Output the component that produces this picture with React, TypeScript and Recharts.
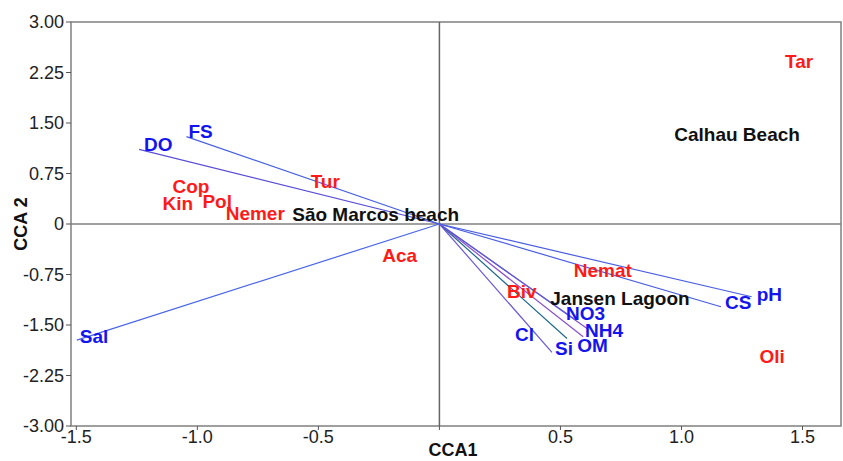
import { ReferenceArea, ReferenceLine, Scatter, ScatterChart, XAxis, YAxis } from "recharts";

// axis ticks
const xTicks = [-1.5, -1, -0.5, 0, 0.5, 1, 1.5];
const yTicks = [3, 2.25, 1.5, 0.75, 0, -0.75, -1.5, -2.25, -3];
const xDomain = [-1.522, 1.659];
const yDomain = [-3, 3];

// environmental variable arrows (CCA1, CCA2 of the arrow tip)
const envVectors = [
  { name: "DO", x: -1.241, y: 1.108 },
  { name: "FS", x: -1.045, y: 1.297 },
  { name: "Sal", x: -1.498, y: -1.724 },
  { name: "pH", x: 1.29, y: -1.08 },
  { name: "CS", x: 1.163, y: -1.229 },
  { name: "Cl", x: 0.465, y: -1.908 },
  { name: "Si", x: 0.527, y: -1.7 },
  { name: "OM", x: 0.594, y: -1.675 },
  { name: "NH4", x: 0.61, y: -1.551 },
  { name: "NO3", x: 0.56, y: -1.42 }
];

// species scores
const species = [
  { name: "Tar", x: 1.428, y: 2.411 },
  { name: "Tur", x: -0.532, y: 0.629 },
  { name: "Cop", x: -1.103, y: 0.554 },
  { name: "Kin", x: -1.144, y: 0.306 },
  { name: "Pol", x: -0.979, y: 0.331 },
  { name: "Nemer", x: -0.883, y: 0.158 },
  { name: "Aca", x: -0.236, y: -0.475 },
  { name: "Nemat", x: 0.555, y: -0.698 },
  { name: "Biv", x: 0.279, y: -1.006 },
  { name: "Oli", x: 1.322, y: -1.961 }
];

// site scores
const sites = [
  { name: "São Marcos beach", x: -0.608, y: 0.143 },
  { name: "Calhau Beach", x: 0.97, y: 1.322 },
  { name: "Jansen Lagoon", x: 0.458, y: -1.105 }
];

const arrowColor: Record<string, string> = {
  DO: "#5a4fd4",
  FS: "#4660e0",
  Sal: "#4a66e6",
  pH: "#4a5ee0",
  CS: "#4a5ee0",
  Cl: "#6a58d8",
  Si: "#1f6a8c",
  OM: "#8a4fc8",
  NH4: "#7a55d0",
  NO3: "#5a5ad8"
};

// pixel offset of each arrow label from its tip
const labelOffset: Record<string, [number, number]> = {
  DO: [5, -5],
  FS: [2, -5],
  Sal: [3, -4],
  pH: [5, -2],
  CS: [4, -4],
  Cl: [-37, -18],
  Si: [-12, 10],
  OM: [-6, 9],
  NH4: [-2, 2],
  NO3: [-9, -6]
};

const font = "'Liberation Sans', Arial, Helvetica, sans-serif";

const makeLabel = (color: string, offsets?: Record<string, [number, number]>) => (props: any) => {
  const { cx, cy, payload } = props;
  const [dx, dy] = offsets ? offsets[payload.name] || [0, 0] : [0, 0];
  return (
    <text
      x={cx + dx}
      y={cy + dy}
      fill={color}
      fontFamily={font}
      fontWeight="bold"
      fontSize={19}
      textAnchor="start"
      dominantBaseline="central"
    >
      {payload.name}
    </text>
  );
};

const fmtY = (v: number) => (v === 0 ? "0" : v.toFixed(2));
const fmtX = (v: number) => (v === 0 ? "" : v.toFixed(1));

export default function App() {
  return (
    <div style={{ position: "absolute", left: 0, top: 0, background: "#fff" }}>
      <ScatterChart width={843} height={461} margin={{ top: 22, right: 2, bottom: 0, left: 0 }}>
        <XAxis
          type="number"
          dataKey="x"
          domain={xDomain}
          ticks={xTicks}
          tickFormatter={fmtX}
          allowDataOverflow
          height={35}
          axisLine={false}
          tickLine={{ stroke: "#555" }}
          tickSize={4}
          tickMargin={0}
          tick={{ fill: "#222", fontSize: 18, fontFamily: font }}
          label={{
            content: (p: any) => (
              <text
                x={p.viewBox.x + p.viewBox.width / 2 - 3}
                y={p.viewBox.y + 24}
                fill="#111"
                fontFamily={font}
                fontWeight="bold"
                fontSize={18}
                textAnchor="middle"
                dominantBaseline="central"
              >
                CCA1
              </text>
            )
          }}
        />
        <YAxis
          type="number"
          dataKey="y"
          domain={yDomain}
          ticks={yTicks}
          tickFormatter={fmtY}
          allowDataOverflow
          width={71}
          axisLine={false}
          tickLine={{ stroke: "#555" }}
          tickSize={5}
          tickMargin={2}
          interval={0}
          tick={{ fill: "#222", fontSize: 18, fontFamily: font }}
          label={{
            content: (p: any) => {
              const x = p.viewBox.x + 21;
              const y = p.viewBox.y + p.viewBox.height / 2;
              return (
                <text
                  x={x}
                  y={y}
                  transform={`rotate(-90 ${x} ${y})`}
                  fill="#111"
                  fontFamily={font}
                  fontWeight="bold"
                  fontSize={18}
                  textAnchor="middle"
                  dominantBaseline="central"
                >
                  CCA 2
                </text>
              );
            }
          }}
        />
        <ReferenceArea
          x1={xDomain[0]}
          x2={xDomain[1]}
          y1={yDomain[0]}
          y2={yDomain[1]}
          fill="none"
          stroke="#808080"
          strokeWidth={1.5}
          fillOpacity={0}
        />
        <ReferenceLine x={0} stroke="#666" strokeWidth={1.5} />
        <ReferenceLine y={0} stroke="#808080" strokeWidth={1.5} />
        {envVectors.map((v) => (
          <ReferenceLine
            key={v.name}
            segment={[
              { x: 0, y: 0 },
              { x: v.x, y: v.y }
            ]}
            stroke={arrowColor[v.name]}
            strokeWidth={1.2}
          />
        ))}
        <Scatter data={envVectors} isAnimationActive={false} shape={makeLabel("#1414ee", labelOffset)} />
        <Scatter data={species} isAnimationActive={false} shape={makeLabel("#ff1a1a")} />
        <Scatter data={sites} isAnimationActive={false} shape={makeLabel("#111")} />
      </ScatterChart>
    </div>
  );
}
